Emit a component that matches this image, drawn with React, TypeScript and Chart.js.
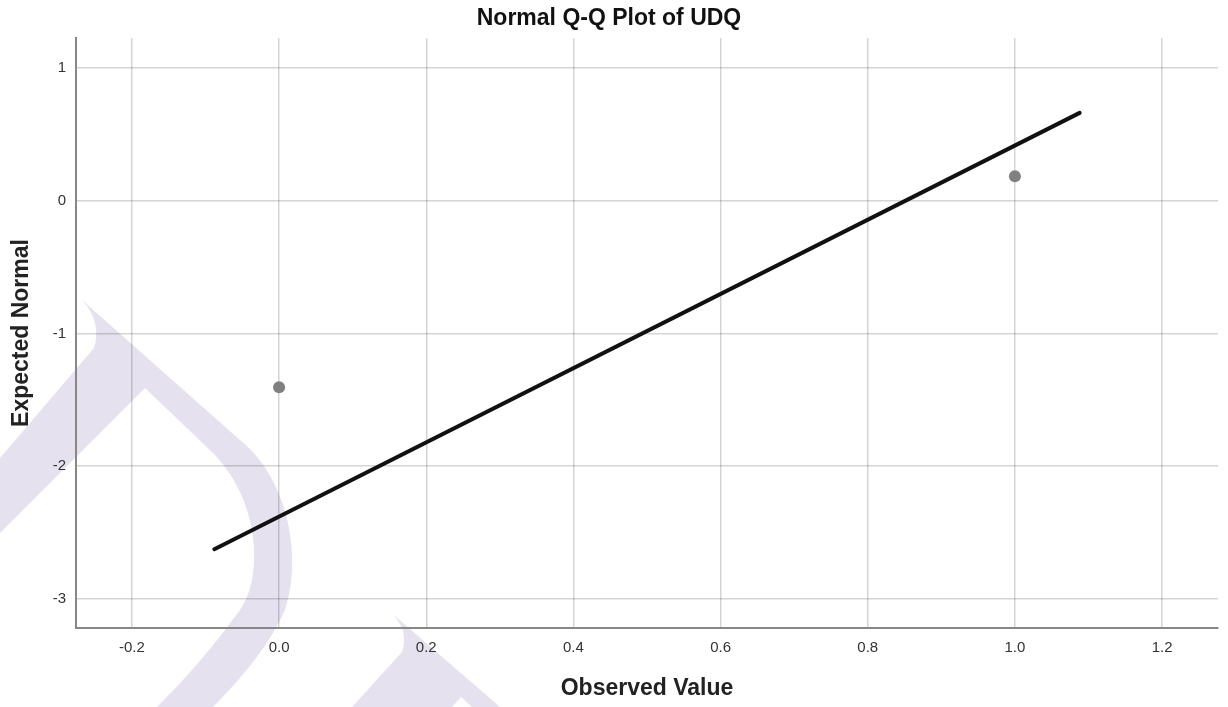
import React, { useEffect, useRef } from "react";
import { Chart, registerables } from "chart.js";

Chart.register(...registerables);

// Observed values and their expected normal quantiles
const observedValues = [0, 1];
const expectedNormal = [-1.405, 0.185];

// Reference line endpoints (observed, expected)
const refLineX = [-0.088, 1.088];
const refLineY = [-2.626, 0.662];

// Axis ranges
const xRange = [-0.276, 1.276];
const yRange = [-3.22, 1.226];
const xStep = 0.2;
const yStep = 1;

const FONT = 'Arial, "Liberation Sans", Helvetica, sans-serif';

// Faint lavender logo mark painted behind the plot
const backdropLogo = {
  id: "backdropLogo",
  beforeDraw(chart: Chart) {
    const ctx = chart.ctx;
    ctx.save();
    ctx.fillStyle = "#e6e1ef";

    ctx.beginPath();
    ctx.moveTo(82, 300);
    ctx.quadraticCurveTo(102, 322, 94, 348);
    ctx.lineTo(0, 458);
    ctx.lineTo(0, 533);
    ctx.lineTo(145, 388);
    ctx.lineTo(215, 455);
    ctx.bezierCurveTo(262, 505, 262, 580, 240, 610);
    ctx.quadraticCurveTo(200, 665, 157, 707);
    ctx.lineTo(213, 707);
    ctx.quadraticCurveTo(265, 655, 285, 610);
    ctx.bezierCurveTo(302, 560, 290, 480, 240, 440);
    ctx.lineTo(82, 300);
    ctx.closePath();
    ctx.fill();

    ctx.beginPath();
    ctx.moveTo(388, 610);
    ctx.quadraticCurveTo(410, 628, 402, 652);
    ctx.lineTo(352, 707);
    ctx.lineTo(452, 707);
    ctx.lineTo(461, 697);
    ctx.lineTo(472, 707);
    ctx.lineTo(500, 707);
    ctx.lineTo(388, 610);
    ctx.closePath();
    ctx.fill();

    ctx.restore();
  },
};

export default function App() {
  const canvasRef = useRef<HTMLCanvasElement | null>(null);

  useEffect(() => {
    const canvas = canvasRef.current;
    if (!canvas) return;

    const points = observedValues.map((x, i) => ({ x, y: expectedNormal[i] }));
    const refLine = refLineX.map((x, i) => ({ x, y: refLineY[i] }));

    const chart = new Chart(canvas, {
      type: "scatter",
      data: {
        datasets: [
          {
            label: "Observed",
            data: points,
            backgroundColor: "#808080",
            borderColor: "#808080",
            borderWidth: 0,
            pointRadius: 6,
            pointHoverRadius: 6,
          },
          {
            label: "Reference",
            data: refLine,
            showLine: true,
            borderColor: "#111111",
            borderWidth: 4,
            borderCapStyle: "round",
            pointRadius: 0,
            pointHoverRadius: 0,
          },
        ],
      },
      options: {
        animation: false,
        responsive: false,
        devicePixelRatio: 1,
        layout: { padding: { left: 0, right: 10, top: 0, bottom: 0 } },
        plugins: {
          legend: { display: false },
          tooltip: { enabled: false },
          title: {
            display: true,
            text: "Normal Q-Q Plot of UDQ",
            color: "#111",
            font: { family: FONT, size: 23, weight: "bold", lineHeight: 1.2 },
            padding: { top: 5, bottom: 5.4 },
          },
        },
        scales: {
          x: {
            type: "linear",
            min: xRange[0],
            max: xRange[1],
            afterFit: (scale: any) => {
              scale.height = 79;
            },
            ticks: {
              stepSize: xStep,
              includeBounds: false,
              padding: 11,
              color: "#333",
              font: { family: FONT, size: 15 },
              callback: (v: any) => Number(v).toFixed(1),
            },
            grid: { color: "rgba(0,0,0,0.17)", lineWidth: 1.5, drawTicks: false },
            border: { display: true, color: "#878787", width: 2 },
            title: {
              display: true,
              text: "Observed Value",
              color: "#222",
              font: { family: FONT, size: 23, weight: "bold", lineHeight: 1.2 },
              padding: { top: 0, bottom: 5 },
            },
          },
          y: {
            type: "linear",
            min: yRange[0],
            max: yRange[1],
            afterFit: (scale: any) => {
              scale.width = 76;
            },
            ticks: {
              stepSize: yStep,
              includeBounds: false,
              padding: 10,
              color: "#333",
              font: { family: FONT, size: 15 },
              callback: (v: any) => String(Math.round(Number(v))),
            },
            grid: { color: "rgba(0,0,0,0.17)", lineWidth: 1.5, drawTicks: false },
            border: { display: true, color: "#878787", width: 2 },
            title: {
              display: true,
              text: "Expected Normal",
              color: "#222",
              font: { family: FONT, size: 23, weight: "bold", lineHeight: 1.2 },
              padding: { top: 8, bottom: 0 },
            },
          },
        },
      },
      plugins: [backdropLogo],
    });

    return () => chart.destroy();
  }, []);

  return (
    <div style={{ position: "fixed", left: 0, top: 0, width: 1228, height: 707, background: "#fff" }}>
      <canvas ref={canvasRef} width={1228} height={707} style={{ display: "block" }} />
    </div>
  );
}
